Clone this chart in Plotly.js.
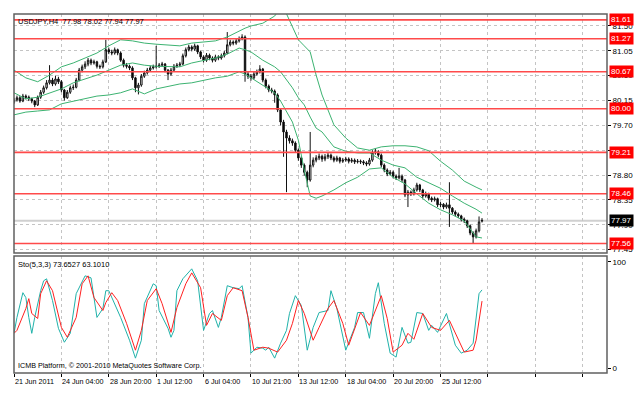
<!DOCTYPE html>
<html><head><meta charset="utf-8">
<script src="https://cdn.plot.ly/plotly-3.0.1.min.js"></script>
<style>html,body{margin:0;padding:0;background:#fff}#c{width:644px;height:397px}</style>
</head><body><div id="c"></div>
<script>
// ---- data (USDJPY H4) ----
const symbol = "USDJPY,H4";
const opens  = [80.12,80.16,80.20,80.14,80.23,80.21,80.18,80.14,80.07,80.21,80.30,80.38,80.47,80.52,80.45,80.54,80.49,80.34,80.20,80.30,80.38,80.39,80.52,80.70,80.76,80.81,80.88,80.83,80.85,80.77,80.76,80.85,81.07,81.03,81.01,81.07,81.01,80.88,80.79,80.77,80.74,80.56,80.38,80.43,80.59,80.65,80.70,80.74,80.76,80.77,80.79,80.81,80.70,80.63,80.70,80.77,80.79,80.81,80.96,81.07,81.12,81.08,81.14,81.03,80.94,80.88,80.97,80.92,80.88,80.94,80.92,80.96,81.01,81.16,81.21,81.19,81.23,81.27,81.30,80.63,80.59,80.56,80.63,80.67,80.72,80.52,80.41,80.34,80.32,80.25,79.98,79.76,79.58,79.47,79.42,79.38,79.25,79.11,78.98,78.85,78.71,78.98,79.07,79.11,79.14,79.09,79.13,79.16,79.11,79.07,79.11,79.05,79.07,79.09,79.05,79.07,79.04,79.05,79.04,79.02,79.00,79.07,79.20,79.22,79.16,78.98,78.89,78.82,78.85,78.78,78.75,78.78,78.71,78.44,78.49,78.46,78.53,78.62,78.53,78.42,78.46,78.38,78.35,78.37,78.26,78.27,78.22,78.26,78.20,78.13,78.09,78.06,78.00,77.97,77.88,77.75,77.68,77.79,77.98];
const highs  = [80.20,80.24,80.23,80.27,80.26,80.24,80.20,80.16,80.24,80.34,80.42,80.52,80.79,80.56,80.60,80.58,80.52,80.36,80.34,80.42,80.44,80.56,80.74,80.80,80.86,80.92,80.91,80.89,80.87,80.80,80.89,81.25,81.11,81.07,81.11,81.09,81.04,80.91,80.83,80.80,80.77,80.58,80.47,80.63,80.69,80.74,80.78,80.80,81.14,80.83,80.85,80.83,80.72,80.74,80.81,80.83,80.85,81.00,81.11,81.16,81.15,81.18,81.16,81.05,80.97,81.01,81.00,80.95,80.98,80.97,81.00,81.05,81.39,81.25,81.24,81.27,81.31,81.35,81.33,80.67,80.63,80.67,80.71,80.79,80.74,80.55,80.44,80.38,80.35,80.28,80.01,79.80,79.62,79.52,79.46,79.41,79.28,79.14,79.01,78.88,79.58,79.12,79.16,79.19,79.17,79.18,79.21,79.19,79.14,79.15,79.13,79.11,79.13,79.12,79.11,79.10,79.09,79.08,79.07,79.05,79.11,79.25,79.29,79.25,79.19,79.01,78.92,78.89,78.88,78.81,78.93,78.81,78.73,78.53,78.52,78.57,78.66,78.64,78.55,78.50,78.48,78.41,78.41,78.39,78.31,78.29,78.30,78.67,78.22,78.16,78.12,78.08,78.03,77.99,77.90,77.78,77.83,78.05,78.02];
const lows   = [80.09,80.13,80.11,80.12,80.17,80.14,80.10,80.03,80.05,80.18,80.27,80.35,80.44,80.41,80.42,80.45,80.30,80.15,80.18,80.27,80.34,80.37,80.50,80.66,80.72,80.77,80.79,80.80,80.73,80.72,80.73,80.83,80.99,80.97,80.98,80.97,80.85,80.75,80.73,80.70,80.52,80.30,80.26,80.40,80.56,80.62,80.67,80.71,80.73,80.74,80.76,80.66,80.52,80.60,80.67,80.74,80.76,80.79,80.93,81.04,81.04,81.05,80.99,80.90,80.84,80.85,80.88,80.84,80.85,80.88,80.89,80.93,80.99,81.13,81.15,81.16,81.20,81.24,80.49,80.54,80.51,80.53,80.60,80.64,80.48,80.37,80.30,80.28,80.11,79.94,79.70,79.13,78.49,79.37,79.33,79.20,79.06,78.93,78.79,78.58,78.68,78.94,79.03,79.07,79.04,79.05,79.09,79.07,79.03,79.04,79.01,79.02,79.04,79.01,79.02,79.00,79.01,79.00,78.98,78.96,78.97,79.04,79.17,79.12,78.94,78.85,78.78,78.79,78.74,78.71,78.72,78.67,78.40,78.22,78.42,78.43,78.50,78.49,78.38,78.39,78.34,78.31,78.32,78.22,78.22,78.18,78.19,77.86,78.09,78.05,78.02,77.96,77.93,77.84,77.71,77.56,77.65,77.76,77.94];
const closes = [80.16,80.20,80.14,80.23,80.21,80.18,80.14,80.07,80.21,80.30,80.38,80.47,80.52,80.45,80.54,80.49,80.34,80.20,80.30,80.38,80.39,80.52,80.70,80.76,80.81,80.88,80.83,80.85,80.77,80.76,80.85,81.07,81.03,81.01,81.07,81.01,80.88,80.79,80.77,80.74,80.56,80.38,80.43,80.59,80.65,80.70,80.74,80.76,80.77,80.79,80.81,80.70,80.63,80.70,80.77,80.79,80.81,80.96,81.07,81.12,81.08,81.14,81.03,80.94,80.88,80.97,80.92,80.88,80.94,80.92,80.96,81.01,81.16,81.21,81.19,81.23,81.27,81.30,80.63,80.59,80.56,80.63,80.67,80.72,80.52,80.41,80.34,80.32,80.25,79.98,79.76,79.58,79.47,79.42,79.38,79.25,79.11,78.98,78.85,78.71,78.98,79.07,79.11,79.14,79.09,79.13,79.16,79.11,79.07,79.11,79.05,79.07,79.09,79.05,79.07,79.04,79.05,79.04,79.02,79.00,79.07,79.20,79.22,79.16,78.98,78.89,78.82,78.85,78.78,78.75,78.78,78.71,78.44,78.49,78.46,78.53,78.62,78.53,78.42,78.46,78.38,78.35,78.37,78.26,78.27,78.22,78.26,78.20,78.13,78.09,78.06,78.00,77.97,77.88,77.75,77.68,77.79,77.95,77.97];

// Bollinger bands read at sampled bars
const bbIdx   = [0,4,8,12,16,20,24,28,32,36,40,44,48,52,56,60,64,68,72,76,78,80,84,88,90,92,94,96,98,100,102,104,108,112,116,120,124,128,132,136,140,144,148,152,156,158];
const bbUpper = [80.70,80.56,80.49,80.61,80.76,80.83,80.92,81.01,81.14,81.25,81.23,81.19,81.17,81.16,81.14,81.19,81.21,81.23,81.30,81.41,81.46,81.50,81.55,81.68,81.83,81.72,81.48,81.25,81.14,81.03,80.61,80.25,79.71,79.47,79.29,79.25,79.31,79.33,79.33,79.31,79.24,79.05,78.89,78.69,78.58,78.53];
const bbMid   = [80.29,80.18,80.21,80.29,80.36,80.47,80.54,80.61,80.70,80.79,80.83,80.79,80.77,80.77,80.76,80.83,80.87,80.92,80.99,81.10,81.07,81.03,80.88,80.76,80.67,80.52,80.38,80.20,80.07,79.85,79.65,79.58,79.31,79.23,79.20,79.20,79.07,78.98,78.93,78.76,78.66,78.56,78.42,78.29,78.18,78.11];
const bbLower = [79.89,79.94,79.96,79.98,80.09,80.14,80.18,80.23,80.25,80.29,80.36,80.27,80.36,80.41,80.45,80.47,80.52,80.56,80.59,80.67,80.63,80.56,80.43,80.29,80.14,79.94,79.76,79.43,78.89,78.42,78.38,78.42,78.53,78.66,78.76,78.91,78.93,78.76,78.64,78.46,78.29,78.17,78.08,77.97,77.68,77.66];

// Stochastic(5,3,3) read at sampled bars
const kIdx = [0,1,3,4,5,6,7,9,10,11,13,15,17,19,21,24,26,27,28,30,31,32,34,36,39,41,43,44,47,48,49,52,53,54,55,57,60,62,64,66,67,69,70,72,74,76,77,79,80,82,84,85,86,88,90,92,93,95,97,98,99,101,103,106,107,109,112,115,116,118,120,122,123,125,127,129,131,133,134,136,138,140,141,143,146,149,151,153,155,157,158];
const kVal = [32.7,47.7,71.0,66.4,47.7,32.7,47.7,72.9,82.2,84.1,63.6,37.4,24.3,32.7,70.1,86.9,85.0,66.4,47.7,56.1,72.9,72.9,60.7,47.7,26.2,9.3,26.2,60.7,79.4,77.6,54.2,37.4,29.0,35.5,72.9,84.1,93.5,82.2,35.5,51.4,54.2,38.3,47.7,77.6,75.7,74.8,77.6,47.7,14.0,19.6,18.7,16.8,19.6,9.3,23.4,35.5,51.4,68.2,58.9,35.5,16.8,38.3,52.3,54.2,72.9,56.1,16.8,38.3,52.3,52.3,28.0,70.1,80.4,42.1,14.0,10.3,38.3,23.4,24.3,52.3,51.4,35.5,40.2,33.6,51.4,21.5,14.0,16.8,23.4,70.1,73.6527];
const dIdx = [0,1,4,5,6,8,9,11,13,16,18,21,23,25,27,30,31,33,35,38,41,43,45,48,50,52,53,55,58,60,63,65,67,70,72,74,77,79,81,84,86,89,92,94,96,98,101,103,106,108,111,113,117,120,124,126,128,131,133,135,138,141,144,147,150,152,155,156,158];
const dVal = [32.7,35.5,56.1,65.4,51.4,46.7,70.1,82.2,72.9,38.3,29.0,47.7,79.4,86.9,66.4,54.2,61.7,71.0,63.6,42.1,16.8,35.5,63.6,74.8,60.7,42.1,33.6,57.0,79.4,89.7,75.7,40.2,51.4,44.9,68.2,75.7,72.9,47.7,16.8,19.6,18.7,15.0,26.2,42.1,63.6,51.4,26.2,38.3,56.1,63.6,42.1,21.5,52.3,40.2,68.2,46.7,15.0,21.5,32.7,27.1,51.4,38.3,35.5,44.9,26.2,15.0,16.8,26.2,63.1010];

// horizontal levels and labels
const levels = [81.61, 81.27, 80.67, 80.00, 79.21, 78.46, 77.56];
const bidPrice = 77.97;
const timeTickIdx = [0,16,32,48,64,80,96,112,128,144];
const timeTickText = ["21 Jun 2011","24 Jun 04:00","28 Jun 20:00","1 Jul 12:00","6 Jul 04:00","10 Jul 21:00","13 Jul 12:00","18 Jul 04:00","20 Jul 20:00","25 Jul 12:00"];
const gridIdx = [0,16,32,48,64,80,96,112,128,144,160,176,192];
const copyright = "ICMB Platform, \u00a9 2001-2010 MetaQuotes Software Corp.";

// ---- chart ----
const FONT = "Liberation Sans, Arial, sans-serif";
const barX = opens.map((_, i) => i);
const n = closes.length;

const traces = [
  {type:'scatter', mode:'lines', x:bbIdx, y:bbUpper, line:{color:'#3cb371', width:1}, hoverinfo:'skip', xaxis:'x', yaxis:'y'},
  {type:'scatter', mode:'lines', x:bbIdx, y:bbMid, line:{color:'#3cb371', width:1}, hoverinfo:'skip', xaxis:'x', yaxis:'y'},
  {type:'scatter', mode:'lines', x:bbIdx, y:bbLower, line:{color:'#3cb371', width:1}, hoverinfo:'skip', xaxis:'x', yaxis:'y'},
  {type:'candlestick', x:barX, open:opens, high:highs, low:lows, close:closes,
   increasing:{line:{color:'#111', width:1}, fillcolor:'#ffffff'},
   decreasing:{line:{color:'#111', width:1}, fillcolor:'#000000'},
   whiskerwidth:0, xaxis:'x', yaxis:'y', hoverinfo:'skip'},
  {type:'scatter', mode:'lines', x:kIdx, y:kVal, line:{color:'#20b2aa', width:1}, xaxis:'x', yaxis:'y2', hoverinfo:'skip'},
  {type:'scatter', mode:'lines', x:dIdx, y:dVal, line:{color:'#ff2020', width:1}, xaxis:'x', yaxis:'y2', hoverinfo:'skip'}
];

const shapes = [];
levels.forEach((lv) => {
  shapes.push({type:'line', xref:'paper', x0:0, x1:1, yref:'y', y0:lv, y1:lv, line:{color:'#ff4a4a', width:1.6}, layer:'above'});
});
shapes.push({type:'line', xref:'paper', x0:0, x1:1, yref:'y', y0:bidPrice, y1:bidPrice, line:{color:'#d0d0d0', width:2}, layer:'below'});
shapes.push({type:'rect', xref:'paper', x0:0, x1:1, yref:'y domain', y0:0, y1:1, line:{color:'#606060', width:1.5}, layer:'above'});
shapes.push({type:'rect', xref:'paper', x0:0, x1:1, yref:'y2 domain', y0:0, y1:1, line:{color:'#606060', width:1.5}, layer:'above'});

const annotations = [];
levels.forEach((lv) => {
  annotations.push({xref:'paper', x:1, xanchor:'left', xshift:2, yref:'y', y:lv, yanchor:'middle',
    text:lv.toFixed(2), showarrow:false, bgcolor:'#ff0000', borderpad:1,
    font:{family:FONT, size:8, color:'#ffffff'}});
});
annotations.push({xref:'paper', x:1, xanchor:'left', xshift:2, yref:'y', y:bidPrice, yanchor:'middle',
  text:bidPrice.toFixed(2), showarrow:false, bgcolor:'#000000', borderpad:1,
  font:{family:FONT, size:8, color:'#ffffff'}});
annotations.push({xref:'paper', x:0, xanchor:'left', xshift:2, yref:'paper', y:1, yanchor:'top', yshift:-1,
  text: symbol + "  " + [opens[n-1],highs[n-1],lows[n-1],closes[n-1]].map(v=>v.toFixed(2)).join(' '),
  showarrow:false, font:{family:FONT, size:7.5, color:'#000'}});
annotations.push({xref:'paper', x:0, xanchor:'left', xshift:2, yref:'y2 domain', y:1, yanchor:'top', yshift:-2,
  text: "Sto(5,3,3) " + kVal[kVal.length-1].toFixed(4) + " " + dVal[dVal.length-1].toFixed(4),
  showarrow:false, font:{family:FONT, size:7.5, color:'#000'}});
annotations.push({xref:'paper', x:0, xanchor:'left', xshift:2, yref:'y2 domain', y:0, yanchor:'bottom', yshift:1,
  text: copyright, showarrow:false, font:{family:FONT, size:7.2, color:'#000'}});
timeTickIdx.forEach((ix, j) => {
  annotations.push({xref:'x', x:ix, xanchor:'left', xshift:-1, yref:'paper', y:0, yanchor:'top', yshift:-2,
    text: timeTickText[j], showarrow:false, font:{family:FONT, size:7.2, color:'#000'}});
});

const layout = {
  width:644, height:397, margin:{l:14, r:37, t:14, b:24},
  paper_bgcolor:'#ffffff', plot_bgcolor:'#ffffff', showlegend:false,
  font:{family:FONT, size:8, color:'#000'},
  xaxis:{range:[0,200.2], anchor:'y2', tickvals:gridIdx, showticklabels:false,
    ticks:'outside', ticklen:3, tickcolor:'#000', showgrid:true, gridcolor:'#c4c4c4', griddash:'dot',
    zeroline:false, showline:false, rangeslider:{visible:false}, fixedrange:true},
  yaxis:{domain:[0.3343,1], side:'right', anchor:'x', range:[77.388,81.717], tick0:77.45, dtick:0.45,
    tickformat:'.2f', ticks:'outside', ticklen:3, tickcolor:'#000', showgrid:true, gridcolor:'#c4c4c4',
    griddash:'dot', zeroline:false, showline:false, tickfont:{family:FONT, size:8, color:'#000'}},
  yaxis2:{domain:[0,0.3259], side:'right', anchor:'x', range:[-4.7,105.6], tickvals:[0,100],
    ticks:'outside', ticklen:3, tickcolor:'#000', showgrid:false, zeroline:false, showline:false,
    tickfont:{family:FONT, size:8, color:'#000'}},
  shapes:shapes, annotations:annotations
};

Plotly.newPlot('c', traces, layout, {staticPlot:true, displayModeBar:false});
</script></body></html>
